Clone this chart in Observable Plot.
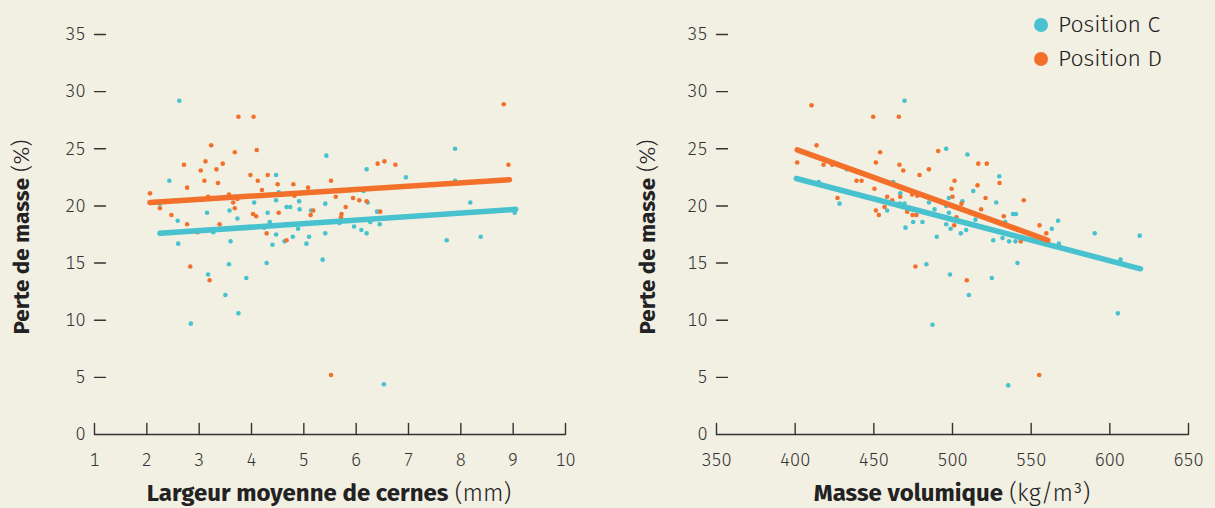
<!DOCTYPE html>
<html><head><meta charset="utf-8">
<script src="https://cdn.jsdelivr.net/npm/d3@7"></script>
<script src="https://cdn.jsdelivr.net/npm/@observablehq/plot@0.6"></script>
<style>
body{margin:0;background:#f2efe3;}
#wrap{position:relative;width:1215px;height:508px;overflow:hidden;background:#f2efe3;font-family:"Fira Sans",Lato,"Open Sans",sans-serif;color:#222}
.panel{position:absolute;top:0}
.ylab{position:absolute;white-space:nowrap;font-size:22.5px;line-height:22px;transform:translate(-50%,-50%) rotate(-90deg);}
.xlab{position:absolute;white-space:nowrap;font-size:24px;line-height:24px;transform:translateX(-50%);}
.ylab b,.xlab b{font-weight:700}
.ylab span,.xlab span{font-weight:300}
.leg{position:absolute;left:1034px;font-size:23px;line-height:23px;font-weight:300;white-space:nowrap}
.leg i{display:inline-block;width:14px;height:14px;border-radius:50%;margin-right:10px;vertical-align:0px}
</style></head>
<body>
<div id="wrap"></div>
<script>
// ---- data ----
const yTicks = [0,5,10,15,20,25,30,35];
const largeurTicks = [1,2,3,4,5,6,7,8,9,10];
const masseTicks = [350,400,450,500,550,600,650];

// Largeur moyenne de cernes (mm) vs Perte de masse (%)
const largeurC = [[2.62,29.2],[2.43,22.2],[2.25,20.2],[2.59,18.7],[2.6,16.7],[3.15,19.4],[3.27,17.7],[3.6,16.9],[3.71,20.8],[3.58,19.6],[3.73,18.9],[4.05,20.3],[4.31,19.4],[4.24,18.1],[4.35,18.6],[4.47,22.7],[4.52,21.2],[4.47,20.5],[4.47,17.5],[4.4,16.6],[4.63,16.9],[4.67,19.9],[4.74,19.9],[4.91,20.4],[4.92,19.7],[4.89,18.0],[4.79,17.3],[5.1,17.3],[5.05,16.7],[5.14,19.6],[5.43,24.4],[5.41,20.2],[5.41,17.6],[5.68,18.5],[5.36,15.3],[7.89,25.0],[6.2,23.2],[6.95,22.5],[7.89,22.2],[6.14,21.3],[6.22,20.3],[8.18,20.3],[9.03,19.4],[6.4,19.5],[5.96,18.2],[6.1,17.9],[6.27,18.6],[6.45,18.4],[6.2,17.6],[7.73,17.0],[8.38,17.3],[3.57,14.9],[3.17,14.0],[3.9,13.7],[4.29,15.0],[3.5,12.2],[3.75,10.6],[2.84,9.7],[6.53,4.4]];
const largeurD = [[3.75,27.8],[4.04,27.8],[3.23,25.3],[3.68,24.7],[4.1,24.9],[2.71,23.6],[3.12,23.9],[3.45,23.7],[3.03,23.1],[3.33,23.2],[3.1,22.2],[3.36,22.0],[2.77,21.6],[3.98,22.7],[4.31,22.7],[4.12,22.2],[4.2,21.4],[4.5,21.9],[4.8,21.9],[5.08,21.6],[5.52,22.2],[5.61,20.8],[4.82,20.9],[2.06,21.1],[2.25,19.8],[2.47,19.2],[2.77,18.4],[2.97,17.7],[3.17,20.8],[3.57,21.0],[3.73,20.6],[3.65,20.3],[3.68,19.8],[3.39,18.4],[4.03,19.3],[4.09,19.1],[4.52,19.4],[4.29,17.6],[4.68,18.4],[4.67,17.0],[5.18,19.6],[5.13,19.2],[5.72,19.3],[5.71,19.0],[8.82,28.9],[8.91,23.6],[6.41,23.7],[6.54,23.9],[6.75,23.6],[5.94,20.7],[6.06,20.5],[6.2,20.4],[5.8,19.9],[6.46,19.5],[2.83,14.7],[3.2,13.5],[5.52,5.2]];
const largeurFitC = [[2.25,17.6],[9.05,19.7]];
const largeurFitD = [[2.06,20.3],[8.93,22.3]];

// Masse volumique (kg/m3) vs Perte de masse (%)
const masseC = [[469.5,29.2],[496,25.0],[509.5,24.5],[415,22.1],[428.2,20.2],[432.8,23.2],[462.3,22.1],[466.8,21.1],[466.6,20.2],[469.5,20.2],[458.5,19.6],[470.1,18.1],[475,18.6],[480.9,18.6],[485,20.3],[488.6,19.7],[490,17.3],[496,20.0],[496,18.4],[497.7,20.7],[497.7,19.4],[498.8,18.0],[505.3,17.6],[506.3,20.4],[508.7,17.9],[513.2,21.3],[514.6,18.8],[529.7,22.6],[527.8,20.3],[538.5,19.3],[540.3,19.3],[533.5,18.6],[563.1,18.0],[567.1,18.7],[590.4,17.6],[619,17.4],[525.9,17.0],[531.8,17.2],[536,16.9],[540,16.9],[567.6,16.7],[606.8,15.3],[483.4,14.9],[498.4,14.0],[510.4,12.2],[487.3,9.6],[541.3,15.0],[525,13.7],[605.1,10.6],[535.4,4.3]];
const masseD = [[410.4,28.8],[449.6,27.8],[465.9,27.8],[413.6,25.3],[454,24.7],[490.9,24.8],[401.3,23.8],[418,23.6],[423.5,23.6],[451.3,23.8],[466.3,23.6],[468.7,23.1],[479,22.7],[485,23.2],[516.4,23.7],[521.8,23.7],[439,22.2],[442.2,22.2],[501.3,22.2],[515.9,21.8],[499.4,21.5],[450.4,21.5],[458.5,20.8],[466.8,20.8],[461.7,20.5],[426.9,20.7],[474.4,21.0],[477.6,20.9],[500,20.8],[505.7,20.2],[456.8,19.9],[471.2,19.5],[451.3,19.6],[453.2,19.2],[474.6,19.2],[477.1,19.2],[502.5,19.0],[501.1,18.3],[518.2,19.7],[529.9,22.0],[521,20.7],[545.3,20.5],[532.6,19.1],[555.3,18.3],[559.6,17.6],[543.4,16.9],[476.4,14.7],[509.1,13.5],[555.1,5.2]];
const masseFitC = [[400.7,22.4],[619.5,14.5]];
const masseFitD = [[401.3,24.9],[560.6,17.0]];

const series = ["Position C","Position D"];
const colors = ["#47c2ce","#f3702b"];

// ---- drawing ----
const FONT = '"Fira Sans", Lato, "Open Sans", sans-serif';
const INK = "#333";
const tickUp = {draw(ctx, l){ ctx.moveTo(0,0); ctx.lineTo(0,-l); }};

function panel({dataC, dataD, fitC, fitD, xDomain, xTicks, width, marginLeft, marginRight}) {
  return Plot.plot({
    width, height: 508, marginTop: 34, marginBottom: 74, marginLeft, marginRight,
    style: {background: "transparent", fontFamily: FONT, fontSize: "18px", color: INK, overflow: "visible"},
    x: {domain: xDomain}, y: {domain: [0,35]},
    marks: [
      Plot.ruleY([0], {stroke: INK, strokeWidth: 1.4}),
      Plot.vector(xTicks, {x: d => d, y: 0, length: 11, rotate: 0, anchor: "start", shape: tickUp, stroke: INK, strokeWidth: 1.4}),
      Plot.vector(yTicks.filter(d => d > 0), {x: xDomain[0], y: d => d, length: 11, rotate: 90, anchor: "start", shape: tickUp, stroke: INK, strokeWidth: 1.4}),
      Plot.axisX(xTicks, {tickSize: 0, tickPadding: 19, label: null, fill: INK, fontWeight: 300}),
      Plot.axisY(yTicks, {tickSize: 0, tickPadding: 9, label: null, fill: INK, fontWeight: 300}),
      Plot.dot(dataC, {x: "0", y: "1", r: 2.3, fill: colors[0]}),
      Plot.dot(dataD, {x: "0", y: "1", r: 2.3, fill: colors[1]}),
      Plot.line(fitC, {x: "0", y: "1", stroke: colors[0], strokeWidth: 5.5, strokeLinecap: "round"}),
      Plot.line(fitD, {x: "0", y: "1", stroke: colors[1], strokeWidth: 5.5, strokeLinecap: "round"})
    ]
  });
}

const wrap = document.getElementById("wrap");
const left = panel({dataC: largeurC, dataD: largeurD, fitC: largeurFitC, fitD: largeurFitD,
  xDomain: [1,10], xTicks: largeurTicks, width: 600, marginLeft: 94, marginRight: 35});
left.classList.add("panel"); left.style.left = "0px";
const right = panel({dataC: masseC, dataD: masseD, fitC: masseFitC, fitD: masseFitD,
  xDomain: [350,650], xTicks: masseTicks, width: 615, marginLeft: 116, marginRight: 27});
right.classList.add("panel"); right.style.left = "600px";
wrap.append(left, right);

function addHTML(html){ const t = document.createElement("template"); t.innerHTML = html.trim(); wrap.append(t.content.firstChild); }
addHTML('<div class="ylab" style="left:22px;top:237px"><b>Perte de masse</b> <span>(%)</span></div>');
addHTML('<div class="ylab" style="left:648px;top:237px"><b>Perte de masse</b> <span>(%)</span></div>');
addHTML('<div class="xlab" style="left:329px;top:481px"><b>Largeur moyenne de cernes</b> <span>(mm)</span></div>');
addHTML('<div class="xlab" style="left:952px;top:481px"><b>Masse volumique</b> <span>(kg/m³)</span></div>');
series.forEach((s, i) => addHTML(`<div class="leg" style="top:${13 + i*34}px"><i style="background:${colors[i]}"></i>${s}</div>`));
</script>
</body></html>
